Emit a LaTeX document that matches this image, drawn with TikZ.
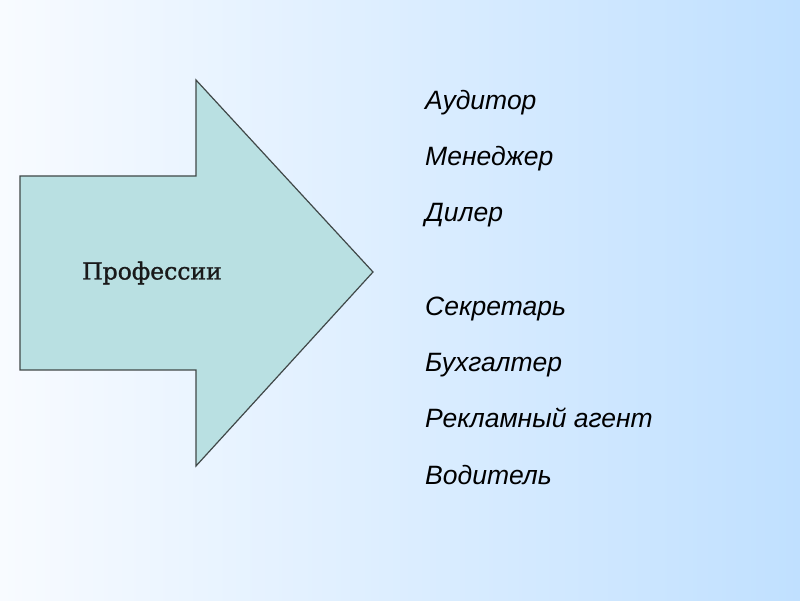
\documentclass[tikz,border=0pt]{standalone}
\usepackage{fontspec}
\setmainfont{Liberation Sans}
\newfontfamily\titlefont[FakeBold=1.2]{DejaVu Serif}
\definecolor{bgleft}{HTML}{F8FBFF}
\definecolor{bgright}{HTML}{C0E0FF}
\definecolor{arrowfill}{HTML}{B9E0E2}
\definecolor{arrowline}{HTML}{404848}
\begin{document}
\begin{tikzpicture}[x=1pt,y=1pt,
  item/.style={anchor=base west,inner sep=0pt,font=\fontsize{26.5}{30}\selectfont\itshape}]
\useasboundingbox (0,0) rectangle (800,600);
\shade[left color=bgleft,right color=bgright] (0,0) rectangle (800,600);
\draw[fill=arrowfill,draw=arrowline,line width=1.2pt,line join=miter]
  (20,424) -- (196,424) -- (196,520) -- (373,328) -- (196,134) -- (196,230) -- (20,230) -- cycle;
\node[inner sep=0pt,font=\titlefont\fontsize{23.5}{26}\selectfont,text=black!90] (title) at (152,327) {Профессии};
\node[item] (i1) at (425,490) {Аудитор};
\node[item] (i2) at (425,434) {Менеджер};
\node[item] (i3) at (425,378) {Дилер};
\node[item] (i4) at (425,284) {Секретарь};
\node[item] (i5) at (425,228) {Бухгалтер};
\node[item] (i6) at (425,172) {Рекламный агент};
\node[item] (i7) at (425,116) {Водитель};
\end{tikzpicture}
\end{document}
